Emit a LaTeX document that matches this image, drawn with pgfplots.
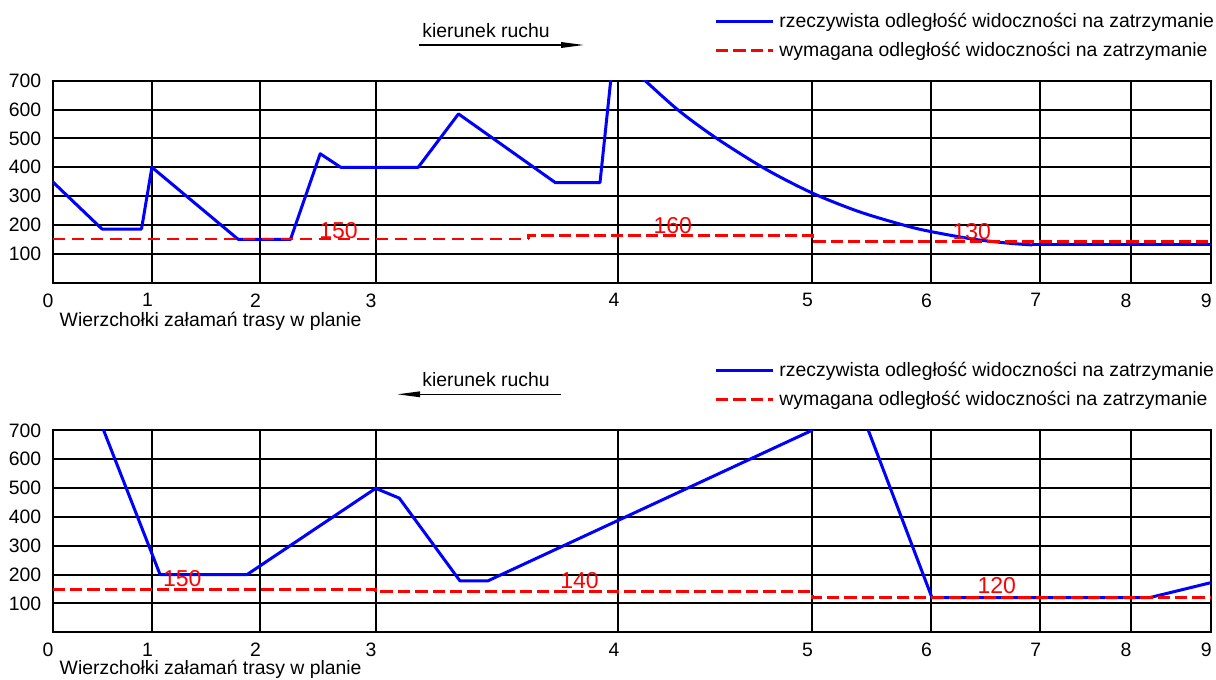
\documentclass[border=0pt]{standalone}
\usepackage{pgfplots}
\pgfplotsset{compat=1.18}
\usepackage{fontspec}
\setmainfont{Liberation Sans}
\usetikzlibrary{arrows.meta}
\definecolor{cblue}{RGB}{0,0,255}
\definecolor{cred}{RGB}{255,0,0}
\newcommand{\fnt}{\fontsize{9.7}{11}\selectfont}
\newcommand{\rfnt}{\fontsize{11.5}{13}\selectfont}
\pgfplotsset{
 blueline/.style={cblue, line width=1.5pt, line join=round},
 redthick/.style={cred, line width=1.5pt, dash pattern=on 6.2pt off 2.5pt},
 redthin/.style={cred, line width=0.95pt, dash pattern=on 6pt off 3.5pt},
 panel/.style={
  scale only axis, width=579.1pt, height=101pt,
  anchor=south west,
  xmin=52.6, xmax=1210.8, ymin=0, ymax=700,
  xtick={52.6,151.9,260,375.6,618.4,812.1,931.1,1040.3,1130.6,1210.8},
  xticklabels={0,1,2,3,4,5,6,7,8,9},
  ytick={100,200,300,400,500,600,700},
  grid=major,
  major grid style={black, line width=1pt},
  axis line style={black, line width=1pt},
  major tick length=0pt,
  /pgf/number format/assume math mode=true,
  tick label style={font=\fnt, inner sep=0pt},
  xticklabel style={anchor=north, yshift=-5.2pt, xshift=-2.25pt},
  yticklabel style={anchor=east, xshift=-5.5pt},
  legend cell align=left,
  legend style={at={(1.00276,1.346)}, anchor=north east, draw=none, fill=none,
    inner sep=0pt, outer sep=0pt, font=\fnt, row sep=4.3pt,
    nodes={inner sep=0pt, text height=8.2pt, text depth=2pt},
    /tikz/every odd column/.append style={column sep=2.35pt}},
  legend image code/.code={\draw[##1] (0pt,0pt) -- (28.7pt,0pt);},
 }
}
\begin{document}
\begin{tikzpicture}
\useasboundingbox (0,0) rectangle (608pt,-340pt);
% ---------- top panel ----------
\begin{axis}[panel, at={(26.3pt,-141.35pt)}]
\addplot[blueline] coordinates {(52.6,350) (102,186) (141.5,186) (151.9,400) (238.3,150) (290.5,150) (320.2,447) (340.7,400) (418.2,400) (458.5,585) (555.3,347) (600,347) (612.2,750)};
\addlegendentry{rzeczywista odległość widoczności na zatrzymanie}
\addplot[blueline, smooth, forget plot] coordinates {(630,748) (645.2,700) (678.6,597) (715.9,502) (765,395) (812.1,311) (859.2,246) (906.4,197) (931.1,177) (973.1,151) (1008.5,137) (1032,131)};
\addplot[blueline, forget plot] coordinates {(1032,131) (1210.8,131)};
\addplot[redthin, forget plot] coordinates {(52.6,150) (528.3,150)};
\addplot[redthick] coordinates {(528.3,150) (528.3,165) (812.1,165) (812.1,142) (1210.8,142)};
\addlegendentry{wymagana odległość widoczności na zatrzymanie}
\node[cred, font=\rfnt, inner sep=0pt] at (axis cs:338.5,182) {150};
\node[cred, font=\rfnt, inner sep=0pt] at (axis cs:672.7,199) {160};
\node[cred, font=\rfnt, inner sep=0pt] at (axis cs:971.8,176) {130};
\end{axis}
% ---------- bottom panel ----------
\begin{axis}[panel, at={(26.3pt,-316.15pt)}]
\addplot[blueline] coordinates {(52.6,1152) (160.1,200) (247,200) (375.7,499) (399.3,465) (460,178) (487.7,178) (812.1,700) (840,958) (932,120) (1149.4,120) (1210.8,172)};
\addlegendentry{rzeczywista odległość widoczności na zatrzymanie}
\addplot[redthick] coordinates {(52.6,150) (375.7,150) (375.7,140) (812.1,140) (812.1,120) (1210.8,120)};
\addlegendentry{wymagana odległość widoczności na zatrzymanie}
\node[cred, font=\rfnt, inner sep=0pt] at (axis cs:182.2,186.6) {150};
\node[cred, font=\rfnt, inner sep=0pt] at (axis cs:579.6,178) {140};
\node[cred, font=\rfnt, inner sep=0pt] at (axis cs:996.7,163) {120};
\end{axis}
% ---------- annotations ----------
\node[anchor=base west, inner sep=0pt, font=\fnt] at (211pt,-18.65pt) {kierunek ruchu};
\draw[line width=0.7pt, -{Triangle[length=11.5pt,width=2.8pt]}] (209.5pt,-22.5pt) -- (292pt,-22.5pt);
\node[anchor=base west, inner sep=0pt, font=\fnt] at (211pt,-193.15pt) {kierunek ruchu};
\draw[line width=0.7pt, -{Triangle[length=11.5pt,width=2.8pt]}] (280.6pt,-197.15pt) -- (198.6pt,-197.15pt);
\node[anchor=base west, inner sep=0pt, font=\fnt] at (29.65pt,-163pt) {Wierzchołki załamań trasy w planie};
\node[anchor=base west, inner sep=0pt, font=\fnt] at (29.65pt,-337.2pt) {Wierzchołki załamań trasy w planie};
\end{tikzpicture}
\end{document}
